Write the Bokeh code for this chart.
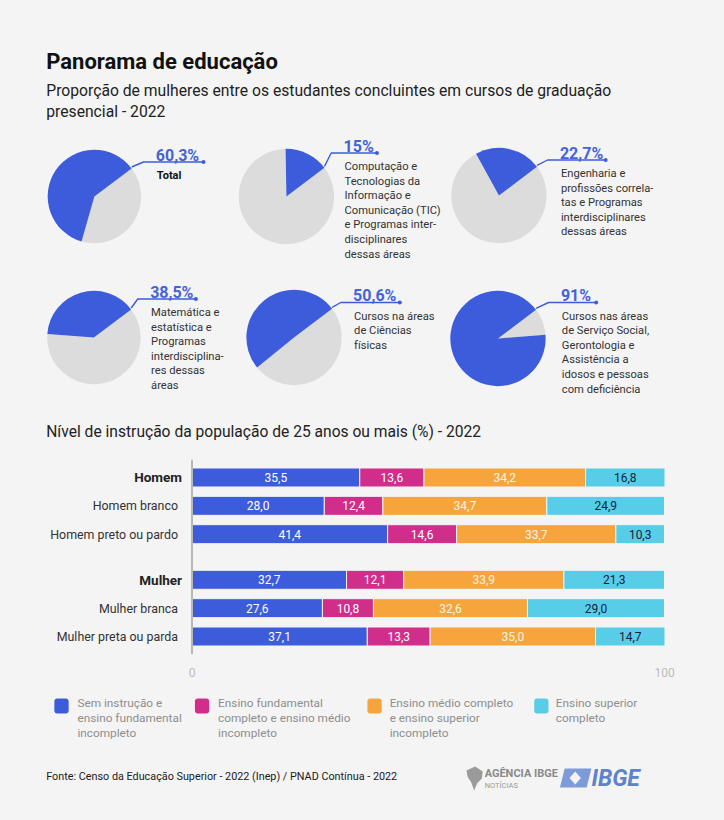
import math
from bokeh.plotting import figure
from bokeh.models import ColumnDataSource, Range1d, FactorRange, Span, FixedTicker
from bokeh.layouts import column
from bokeh.embed import file_html
from bokeh.resources import INLINE
from bokeh.core.properties import value

# ---------------- data ----------------
pie_values = [60.3, 15, 22.7, 38.5, 50.6, 91]
pie_labels = [
    ["Total"],
    ["Computação e", "Tecnologias da", "Informação e", "Comunicação (TIC)",
     "e Programas inter-", "disciplinares", "dessas áreas"],
    ["Engenharia e", "profissões correla-", "tas e Programas",
     "interdisciplinares", "dessas áreas"],
    ["Matemática e", "estatística e", "Programas", "interdisciplina-",
     "res dessas", "áreas"],
    ["Cursos na áreas", "de Ciências", "físicas"],
    ["Cursos nas áreas", "de Serviço Social,", "Gerontologia e",
     "Assistência a", "idosos e pessoas", "com deficiência"],
]

categories = ["Homem", "Homem branco", "Homem preto ou pardo",
              "Mulher", "Mulher branca", "Mulher preta ou parda"]
groups = ["H", "H", "H", "M", "M", "M"]
sem_instrucao = [35.5, 28.0, 41.4, 32.7, 27.6, 37.1]
fundamental = [13.6, 12.4, 14.6, 12.1, 10.8, 13.3]
medio = [34.2, 34.7, 33.7, 33.9, 32.6, 35.0]
superior = [16.8, 24.9, 10.3, 21.3, 29.0, 14.7]
series_names = ["sem", "fund", "medio", "sup"]
legend_labels = [
    ["Sem instrução e", "ensino fundamental", "incompleto"],
    ["Ensino fundamental", "completo e ensino médio", "incompleto"],
    ["Ensino médio completo", "e ensino superior", "incompleto"],
    ["Ensino superior", "completo"],
]
x_ticks = [0, 100]

# ---------------- style ----------------
BG = "#f4f4f4"
FONT = "Roboto"
BLUE = "#3D5CDB"
MAGENTA = "#D12E8B"
ORANGE = "#F5A53C"
CYAN = "#58CDE8"
GREY_PIE = "#DCDCDC"
colors = [BLUE, MAGENTA, ORANGE, CYAN]
label_colors = ["white", "white", "#FFF4E2", "#16213D"]
W = 724


def fmt(v, force_decimal=True):
    if not force_decimal and float(v).is_integer():
        return f"{int(v)}"
    return f"{v:.1f}".replace(".", ",")


def base_fig(h, xr, yr, **kw):
    p = figure(width=W, height=h, x_range=xr, y_range=yr,
               output_backend="svg", toolbar_location=None,
               background_fill_color=BG, border_fill_color=BG,
               outline_line_color=None, **kw)
    p.grid.visible = False
    return p


# =============== TOP: title + pies ===============
TOP_H = 448
top = base_fig(TOP_H, Range1d(0, W), Range1d(0, TOP_H),
               x_axis_location=None, y_axis_location=None, min_border=0)
X = lambda x: x
Y = lambda y: TOP_H - y

top.text(x=[X(48)], y=[Y(61)], text=["Panorama de educação"],
         text_font=value(FONT), text_font_size="22px", text_font_style="bold",
         text_baseline="alphabetic", text_color="#111111")
top.text(x=[X(48), X(48)], y=[Y(90), Y(111)],
         text=["Proporção de mulheres entre os estudantes concluintes em cursos de graduação",
               "presencial - 2022"],
         text_font=value(FONT), text_font_size="15.7px",
         text_baseline="alphabetic", text_color="#222222")
top.text(x=[X(48)], y=[Y(431)],
         text=["Nível de instrução da população de 25 anos ou mais (%) - 2022"],
         text_font=value(FONT), text_font_size="15.6px",
         text_baseline="alphabetic", text_color="#222222")

# layout of the six pies (reference pixel positions)
pie_cx = [98.5, 300, 523, 98, 308, 522]
pie_cy = [196, 196, 195, 337, 337, 338]
pie_r = [49, 50, 50, 49, 50, 50]
lead_y = [161.5, 152.5, 159.5, 298.5, 302, 302]
text_x = [163, 360, 587, 157, 370, 588]
lead_end = [213, 395, 635, 205, 419, 625]
A0 = 37.0  # boundary angle where the leader starts

cx = [X(v) for v in pie_cx]
cy = [Y(v) for v in pie_cy]
blue_end = [math.radians(A0 + 3.6 * v) for v in pie_values]
wsrc = ColumnDataSource(dict(x=cx, y=cy, r=pie_r,
                             a0=[math.radians(A0)] * 6, a1=blue_end,
                             a2=[math.radians(A0 + 360)] * 6))
top.wedge(x="x", y="y", radius="r", start_angle="a1", end_angle="a2",
          fill_color=GREY_PIE, line_color=None, source=wsrc)
top.wedge(x="x", y="y", radius="r", start_angle="a0", end_angle="a1",
          fill_color=BLUE, line_color=None, source=wsrc)

xs, ys = [], []
for i in range(6):
    ex = cx[i] + pie_r[i] * math.cos(math.radians(A0))
    ey = cy[i] + pie_r[i] * math.sin(math.radians(A0))
    xs.append([ex, X(text_x[i] - 13), X(lead_end[i])])
    ys.append([ey, Y(lead_y[i]), Y(lead_y[i])])
top.multi_line(xs=xs, ys=ys, line_color=BLUE, line_width=1.4)
top.scatter(x=[X(v) for v in lead_end], y=[Y(v) for v in lead_y],
            size=4, color=BLUE, line_color=None)

top.text(x=[X(v) for v in text_x], y=[Y(v - 7) for v in lead_y],
         text=[fmt(v, False) + "%" for v in pie_values],
         text_font=value(FONT), text_font_size="16px", text_font_style="bold",
         text_baseline="alphabetic", text_color="#4563D6")

dx, dy, dt = [], [], []
for i, lines in enumerate(pie_labels):
    if i == 0:
        continue
    for k, ln in enumerate(lines):
        dx.append(X(text_x[i] + 1))
        dy.append(Y(lead_y[i] + 13.5 + 14.6 * k))
        dt.append(ln)
top.text(x=dx, y=dy, text=dt, text_font=value(FONT), text_font_size="11.2px",
         text_baseline="middle", text_color="#333333")
top.text(x=[X(text_x[0] + 1)], y=[Y(lead_y[0] + 13.5)], text=pie_labels[0],
         text_font=value(FONT), text_font_size="11px", text_font_style="bold",
         text_baseline="middle", text_color="#111111")

# =============== BAR CHART ===============
factors = [(g, c) for g, c in zip(groups, categories)]
yr = FactorRange(*list(reversed(factors)), factor_padding=0, group_padding=0.61,
                 range_padding=0.135, range_padding_units="absolute")
bar = base_fig(232, Range1d(-40.53, 105.5), yr, y_axis_location=None,
               min_border_left=0, min_border_right=34, min_border_top=11,
               min_border_bottom=26)

src = ColumnDataSource(dict(y=factors, sem=sem_instrucao, fund=fundamental,
                            medio=medio, sup=superior))
bar.hbar_stack(series_names, y="y", height=0.67, color=colors, source=src,
               line_color=BG, line_width=1)

lx, ly, lt, lc = [], [], [], []
for r in range(len(categories)):
    vals = [sem_instrucao[r], fundamental[r], medio[r], superior[r]]
    left = 0.0
    for s, v in enumerate(vals):
        lx.append(left + v / 2)
        ly.append(factors[r])
        lt.append(fmt(v))
        lc.append(label_colors[s])
        left += v
bar.text(x="x", y="y", text="t", text_color="c",
         source=ColumnDataSource(dict(x=lx, y=ly, t=lt, c=lc)),
         text_font=value(FONT), text_font_size="12px",
         text_align="center", text_baseline="middle")

bold_idx = [0, 3]
reg_idx = [1, 2, 4, 5]
bar.text(x=[0] * 2, y=[factors[i] for i in bold_idx],
         text=[categories[i] for i in bold_idx], x_offset=-10,
         text_font=value(FONT), text_font_size="13.5px", text_font_style="bold",
         text_align="right", text_baseline="middle", text_color="#222222")
bar.text(x=[0] * 4, y=[factors[i] for i in reg_idx],
         text=[categories[i] for i in reg_idx], x_offset=-14,
         text_font=value(FONT), text_font_size="12.4px",
         text_align="right", text_baseline="middle", text_color="#333333")

bar.add_layout(Span(location=0, dimension="height", line_color="#B8B8B8",
                    line_width=2))
xa = bar.xaxis[0]
xa.ticker = FixedTicker(ticks=x_ticks)
xa.axis_line_color = None
xa.major_tick_line_color = None
xa.minor_tick_line_color = None
xa.major_label_text_color = "#BDBDBD"
xa.major_label_text_font = FONT
xa.major_label_text_font_size = "12px"
xa.major_label_standoff = 7

# =============== LEGEND + FOOTER ===============
BOT_H = 140
bot = base_fig(BOT_H, Range1d(0, W), Range1d(0, BOT_H),
               x_axis_location=None, y_axis_location=None, min_border=0)
YB = lambda y: 820 - y

sq_x = [56.5, 204, 385, 560]
txt_x = [80.7, 228.3, 408.3, 582.7]
bot.quad(left=[X(v) for v in sq_x], right=[X(v + 15) for v in sq_x],
         top=[YB(698)] * 4, bottom=[YB(713)] * 4,
         fill_color=colors, line_color=None, border_radius=3)
lgx, lgy, lgt = [], [], []
for i, lines in enumerate(legend_labels):
    for k, ln in enumerate(lines):
        lgx.append(X(txt_x[i]))
        lgy.append(YB(702 + 15 * k))
        lgt.append(ln)
bot.text(x=lgx, y=lgy, text=lgt, text_font=value(FONT), text_font_size="11.8px",
         text_baseline="middle", text_color="#8E8E8E")

bot.text(x=[X(48)], y=[YB(776)],
         text=["Fonte: Censo da Educação Superior - 2022 (Inep) / PNAD Contínua - 2022"],
         text_font=value(FONT), text_font_size="10.8px",
         text_baseline="middle", text_color="#1A1A1A")

# logos (approximate, as text + simple shapes)
bot.patch(x=[X(v) for v in [489, 498, 506, 505, 500, 497, 494, 490]],
          y=[YB(v) for v in [770, 766, 771, 778, 783, 790, 782, 776]],
          fill_color="#9A9A9A", line_color=None)
bot.text(x=[X(508)], y=[YB(773)], text=["AGÊNCIA IBGE"],
         text_font=value(FONT), text_font_size="11px", text_font_style="bold",
         text_baseline="middle", text_color="#8A8A8A")
bot.text(x=[X(508)], y=[YB(785)], text=["NOTÍCIAS"],
         text_font=value(FONT), text_font_size="7.5px",
         text_baseline="middle", text_color="#9A9A9A")
bot.patch(x=[X(v) for v in [592, 620, 615, 587]],
          y=[YB(v) for v in [768, 768, 787, 787]],
          fill_color="#7D9BD8", line_color=None)
bot.patch(x=[X(v) for v in [603, 609, 603, 597]],
          y=[YB(v) for v in [771, 777.5, 784, 777.5]],
          fill_color=BG, line_color=None)
bot.text(x=[X(620)], y=[YB(778)], text=["IBGE"],
         text_font=value(FONT), text_font_size="23px",
         text_font_style="bold italic", text_baseline="middle",
         text_color="#5F82CA")

layout = column(top, bar, bot, spacing=0)
html = file_html(layout, INLINE)
html = html.replace("</head>",
                    "<style>html, body {margin:0; padding:0; background:#f4f4f4;}</style></head>", 1)
open("out.html", "w").write(html)
